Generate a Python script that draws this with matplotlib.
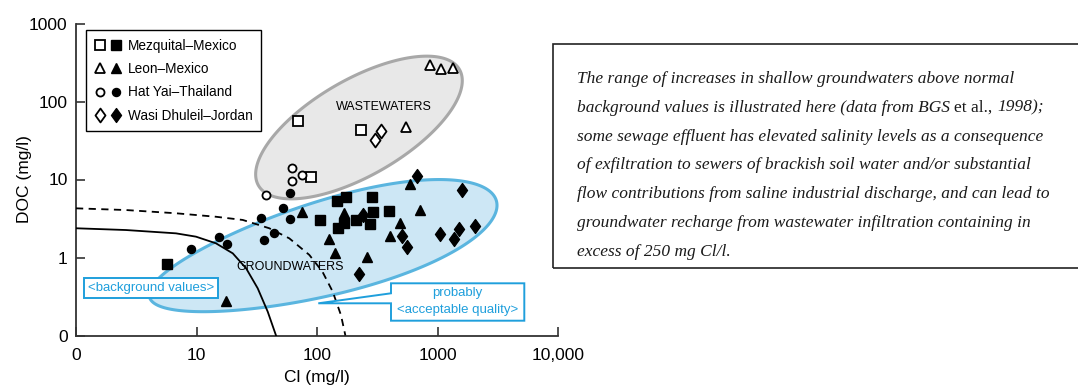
import numpy as np
import matplotlib
matplotlib.use("Agg")
import matplotlib.pyplot as plt
from matplotlib.patches import Polygon, Rectangle
from matplotlib.path import Path
from matplotlib.legend_handler import HandlerTuple

plt.rcParams['font.family'] = ['Liberation Sans', 'DejaVu Sans']

# ---- data: Cl (mg/l) vs DOC (mg/l) ------------------------------------------
# open symbols = wastewaters, filled = groundwaters
mezq_ww_cl = [70.0, 232, 89.7]
mezq_ww_doc = [56.2, 43.1, 10.8]
mezq_gw_cl = [5.7, 105, 147, 148, 167, 175, 210, 277, 288, 292, 398]
mezq_gw_doc = [0.82, 3.03, 5.30, 2.41, 2.79, 5.91, 3.00, 2.69, 5.91, 3.80, 3.95]

leon_ww_cl = [548, 866, 1069, 1337]
leon_ww_doc = [46.7, 294, 261, 267]
leon_gw_cl = [17.6, 75, 126, 142, 169, 260, 403, 488, 591, 720]
leon_gw_doc = [0.277, 3.80, 1.73, 1.15, 3.75, 1.02, 1.89, 2.74, 8.68, 4.06]

hat_ww_cl = [37.5, 62.4, 62.4, 75.1]
hat_ww_doc = [6.27, 14.0, 9.66, 11.3]
hat_gw_cl = [8.95, 15.3, 18.0, 34.3, 36.3, 44.2, 51.9, 59.3, 59.3]
hat_gw_doc = [1.27, 1.83, 1.47, 3.18, 1.68, 2.08, 4.27, 3.09, 6.65]

wasi_ww_cl = [303, 342]
wasi_ww_doc = [32.1, 42.2]
wasi_gw_cl = [224, 242, 511, 555, 680, 1049, 1371, 1500, 1588, 2036]
wasi_gw_doc = [0.614, 3.51, 1.89, 1.37, 11.2, 2.00, 1.71, 2.30, 7.33, 2.56]

# limit curves (background values / probably acceptable quality)
bg_cl = [1, 2.6, 6.76, 9.9, 14.5, 20.0, 25.8, 32.2, 39.0, 45.7]
bg_doc = [2.37, 2.25, 2.04, 1.85, 1.52, 1.13, 0.727, 0.403, 0.202, 0.10]
acc_cl = [1, 2.6, 6.76, 14.5, 24.2, 40.2, 58.9, 86.3, 111, 135, 158, 172]
acc_doc = [4.27, 4.06, 3.69, 3.33, 3.03, 2.37, 1.76, 1.08, 0.657, 0.365, 0.183, 0.10]

x_ticks = [1, 10, 100, 1000, 10000]
x_labels = ["0", "10", "100", "1000", "10,000"]
y_ticks = [0.1, 1, 10, 100, 1000]
y_labels = ["0", "1", "10", "100", "1000"]

legend_labels = ["Mezquital\u2013Mexico", "Leon\u2013Mexico",
                 "Hat Yai\u2013Thailand", "Wasi Dhuleil\u2013Jordan"]

BLUE = "#1f9fdc"
W, H = 1078, 387

fig = plt.figure(figsize=(W / 100, H / 100), dpi=100)
ax = fig.add_axes([76 / W, 1 - 335.5 / H, 482 / W, 312 / H])
ax.set_xscale("log")
ax.set_yscale("log")
ax.set_xlim(1, 10000)
ax.set_ylim(0.1, 1000)


def blob(cl, doc, a, b, ang, egg=0.0, **kw):
    # ellipse-ish outline in decades, y squeezed so it looks right on screen
    bb = ax.get_position()
    k = (bb.height * H) / (bb.width * W)
    t = np.linspace(0, 2 * np.pi, 300)
    u = a * np.cos(t)
    v = b * np.sin(t) * (1 + egg * np.cos(t))
    th = np.deg2rad(ang)
    dx = u * np.cos(th) - v * np.sin(th)
    dy = (u * np.sin(th) + v * np.cos(th)) / k
    pts = np.column_stack([cl * 10 ** dx, doc * 10 ** dy])
    ax.add_patch(Polygon(pts, closed=True, **kw))


blob(112, 1.285, 1.494, 0.39, 15.5, egg=0.15,
     fc="#cde7f5", ec="#5ab5df", lw=2.2, zorder=1)
blob(223, 46.4, 0.963, 0.398, 30,
     fc="#e8e8e8", ec="#a8a8a8", lw=2.2, zorder=1)

ax.text(360, 84.3, "WASTEWATERS", ha="center", va="center", fontsize=9, zorder=2)
ax.text(59.7, 0.762, "GROUNDWATERS", ha="center", va="center", fontsize=9, zorder=2)

ax.plot(bg_cl, bg_doc, color="black", lw=1.3, zorder=3)
ax.plot(acc_cl, acc_doc, color="black", lw=1.3, ls=(0, (4, 3)), zorder=3)

diamond = Path([(0, 1), (0.72, 0), (0, -1), (-0.72, 0), (0, 1)],
               [Path.MOVETO, Path.LINETO, Path.LINETO, Path.LINETO, Path.CLOSEPOLY])

groups = [
    (mezq_ww_cl, mezq_ww_doc, mezq_gw_cl, mezq_gw_doc, "s", 6.5),
    (leon_ww_cl, leon_ww_doc, leon_gw_cl, leon_gw_doc, "^", 7.5),
    (hat_ww_cl, hat_ww_doc, hat_gw_cl, hat_gw_doc, "o", 5.8),
    (wasi_ww_cl, wasi_ww_doc, wasi_gw_cl, wasi_gw_doc, diamond, 10),
]
handles = []
for wx, wy, gx, gy, mk, ms in groups:
    o, = ax.plot(wx, wy, ls="none", marker=mk, ms=ms, mfc="white", mec="black",
                 mew=1.3, zorder=5)
    f, = ax.plot(gx, gy, ls="none", marker=mk, ms=ms, mfc="black", mec="black",
                 mew=1.0, zorder=5)
    handles.append((o, f))

leg = ax.legend(handles, legend_labels, handler_map={tuple: HandlerTuple(ndivide=None, pad=0.5)},
                loc="upper left", bbox_to_anchor=(86 / W, 1 - 30 / H),
                bbox_transform=fig.transFigure, borderaxespad=0, fontsize=9.8,
                fancybox=False, framealpha=1, edgecolor="black", handlelength=1.9,
                handletextpad=0.5, labelspacing=0.68, borderpad=0.65)
leg.get_frame().set_linewidth(1.0)
leg.set_zorder(6)

# annotation boxes
bgx = 10 ** ((150.7 - 76) / 120.5)
bgy = 10 ** ((257.5 - 288.3) / 78)
ax.text(bgx, bgy, "<background values>", ha="center", va="center", color=BLUE,
        fontsize=9.5, zorder=6,
        bbox=dict(boxstyle="square,pad=0.3", fc="white", ec=BLUE, lw=1.4))

fx = lambda px: (px - 76) / 482
fy = lambda py: (335.5 - py) / 312
call = [(fx(391), fy(283.3)), (fx(391), fy(293.3)), (fx(318.3), fy(303.3)),
        (fx(391), fy(303.3)), (fx(391), fy(320.7)), (fx(524.3), fy(320.7)),
        (fx(524.3), fy(283.3))]
ax.add_patch(Polygon(call, closed=True, transform=ax.transAxes, fc="white",
                     ec=BLUE, lw=1.4, zorder=6, clip_on=False))
ax.text(fx(457.5), fy(293.3), "probably", transform=ax.transAxes, ha="center",
        va="center", color=BLUE, fontsize=9.5, zorder=7)
ax.text(fx(457.5), fy(310), "<acceptable quality>", transform=ax.transAxes,
        ha="center", va="center", color=BLUE, fontsize=9.5, zorder=7)

# axes styling
for s in ["top", "right"]:
    ax.spines[s].set_visible(False)
for s in ["left", "bottom"]:
    ax.spines[s].set_linewidth(1.3)
    ax.spines[s].set_color("#333333")
ax.set_xticks(x_ticks)
ax.set_xticklabels(x_labels)
ax.set_yticks(y_ticks)
ax.set_yticklabels(y_labels)
ax.minorticks_off()
ax.tick_params(direction="in", length=6.5, width=1.2, color="#333333",
               labelsize=12.5)
ax.tick_params(axis="x", pad=9)
ax.tick_params(axis="y", pad=6)
ax.set_xlabel("Cl (mg/l)", fontsize=12.5, labelpad=5)
ax.set_ylabel("DOC (mg/l)", fontsize=12.5, labelpad=-2)

# side text box
fig.add_artist(Rectangle((553 / W, 1 - 268 / H), 0.6, 224 / H,
                         transform=fig.transFigure, fill=False, ec="#222222", lw=1.2))
lines = [
    "The range of increases in shallow groundwaters above normal",
    None,
    "some sewage effluent has elevated salinity levels as a consequence",
    "of exfiltration to sewers of brackish soil water and/or substantial",
    "flow contributions from saline industrial discharge, and can lead to",
    "groundwater recharge from wastewater infiltration containing in",
    "excess of 250 mg Cl/l.",
]
serif = dict(family=["Liberation Serif", "DejaVu Serif"], fontsize=12.5, color="#1a1a1a")
for i, txt in enumerate(lines):
    yb = 1 - (83 + i * 28.8) / H
    if txt is not None:
        fig.text(577 / W, yb, txt, style="italic", va="baseline", **serif)
    else:
        t1 = fig.text(577 / W, yb, "background values is illustrated here (data from BGS ",
                      style="italic", va="baseline", **serif)
        a1 = ax.annotate("et al., ", xy=(1, 0), xycoords=t1, va="bottom", ha="left",
                         annotation_clip=False, **serif)
        ax.annotate("1998);", xy=(1, 0), xycoords=a1, va="bottom", ha="left",
                    style="italic", annotation_clip=False, **serif)

fig.savefig("out.png", dpi=100)
